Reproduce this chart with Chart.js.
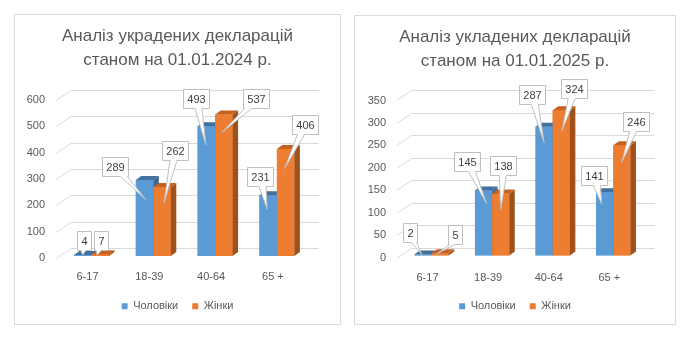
<!DOCTYPE html>
<html>
<head>
<meta charset="utf-8">
<script src="https://cdn.jsdelivr.net/npm/chart.js@4/dist/chart.umd.min.js"></script>
<style>
  body { margin: 0; background: #fff; width: 698px; height: 342px; overflow: hidden; position: relative; }
  .box { position: absolute; border: 1px solid #d9d9d9; box-sizing: border-box; background: #fff; }
  .box canvas { display: block; }
</style>
</head>
<body>
<div class="box" style="left:14px;top:14px;width:327px;height:311px"><canvas id="c2024" width="325" height="309"></canvas></div>
<div class="box" style="left:354px;top:15px;width:322px;height:310px"><canvas id="c2025" width="320" height="308"></canvas></div>
<script>
const ageGroups = ['6-17', '18-39', '40-64', '65 +'];
const seriesNames = ['Чоловіки', 'Жінки'];

const men2024 = [4, 289, 493, 231];
const women2024 = [7, 262, 537, 406];
const ticks2024 = [0, 100, 200, 300, 400, 500, 600];

const men2025 = [2, 145, 287, 141];
const women2025 = [5, 138, 324, 246];
const ticks2025 = [0, 50, 100, 150, 200, 250, 300, 350];

// callout placement per bar: [box dx, box dy, tip dx, tip dy] from the bar's top centre
const callouts2024 = [
  [[0.75, -14, 0, 0], [-30, -13, 1, 19.5], [-10, -28, -0.5, 18.5], [-8, -19, -1, 14]],
  [[1.25, -13.7, -3, 1], [13, -36, 2, 16], [32.5, -16, -2, 18], [19, -24.5, -1, 19.5]]
];
const callouts2025 = [
  [[-12.5, -22, -1, 0], [-17, -29, 3, 13], [-12, -32, 0, 16], [-10.5, -16.4, -3, 12]],
  [[14.6, -19, -3.5, 1], [2.3, -28.4, 0, 16], [13, -21.7, 0.7, 20.5], [14, -23.5, 0, 17]]
];

const colors = ['#5b9bd5', '#ed7d31'];
const faceColors = [
  { top: '#41719c', side: '#3a6690' },
  { top: '#c5621f', side: '#a0501a' }
];
const DX = 5.5, DY = -4;
const FONT = '"Liberation Sans", Arial, sans-serif';

Chart.defaults.font.family = FONT;
Chart.defaults.color = '#595959';

function bars3d(callouts) {
  return {
    id: 'bars3d',
    beforeDatasetsDraw(chart) {
      // receding grid: short diagonal from the axis, then the back wall line
      const { ctx, chartArea: a, scales: { y } } = chart;
      ctx.save();
      ctx.strokeStyle = '#d9d9d9';
      ctx.lineWidth = 1;
      y.ticks.forEach(t => {
        const py = Math.round(y.getPixelForValue(t.value)) + 0.5;
        ctx.beginPath();
        ctx.moveTo(a.left - 4.5, py + 2);
        ctx.lineTo(a.left + 10.5, py - 8);
        ctx.lineTo(a.right + 11, py - 8);
        ctx.stroke();
      });
      ctx.restore();
    },
    afterDatasetsDraw(chart) {
      const ctx = chart.ctx;
      const metas = chart.data.datasets.map((d, i) => chart.getDatasetMeta(i));
      ctx.save();
      for (let j = 0; j < chart.data.labels.length; j++) {
        metas.forEach((meta, i) => {
          const { x, y, base, width } = meta.data[j].getProps(['x', 'y', 'base', 'width'], true);
          const x0 = x - width / 2, x1 = x + width / 2;
          // front face again so the neighbour's side stays behind it
          ctx.fillStyle = colors[i];
          ctx.fillRect(x0, y, width, base - y);
          ctx.fillStyle = faceColors[i].side;
          ctx.beginPath();
          ctx.moveTo(x1, y); ctx.lineTo(x1 + DX, y + DY);
          ctx.lineTo(x1 + DX, base + DY); ctx.lineTo(x1, base);
          ctx.closePath(); ctx.fill();
          ctx.fillStyle = faceColors[i].top;
          ctx.beginPath();
          ctx.moveTo(x0, y); ctx.lineTo(x1, y);
          ctx.lineTo(x1 + DX, y + DY); ctx.lineTo(x0 + DX, y + DY);
          ctx.closePath(); ctx.fill();
        });
      }
      ctx.restore();
    },
    afterDraw(chart) {
      const ctx = chart.ctx;
      ctx.save();
      ctx.font = '11px ' + FONT;
      ctx.lineWidth = 1;
      chart.data.datasets.forEach((ds, i) => {
        chart.getDatasetMeta(i).data.forEach((bar, j) => {
          const { x, y } = bar.getProps(['x', 'y'], true);
          const [bdx, bdy, tdx, tdy] = callouts[i][j];
          const text = String(ds.data[j]);
          const w = Math.round(ctx.measureText(text).width + 8), h = 19;
          const l = Math.round(x + bdx - w / 2) + 0.5, t = Math.round(y + bdy - h / 2) + 0.5;
          const r = l + w, b = t + h, cx = l + w / 2, cy = t + h / 2;
          const tx = x + tdx, ty = y + tdy;
          const half = w > 20 ? 3.5 : 2.5;
          let bx = cx + (tx - cx) * (h / 2) / Math.max(ty - cy, 1);
          bx = Math.min(Math.max(bx, l + half + 1), r - half - 1);
          ctx.beginPath();
          ctx.moveTo(l, t); ctx.lineTo(r, t); ctx.lineTo(r, b);
          ctx.lineTo(bx + half, b); ctx.lineTo(tx, ty); ctx.lineTo(bx - half, b);
          ctx.lineTo(l, b); ctx.closePath();
          ctx.fillStyle = '#fff'; ctx.fill();
          ctx.strokeStyle = '#bfbfbf'; ctx.stroke();
          ctx.fillStyle = '#404040';
          ctx.textAlign = 'center';
          ctx.textBaseline = 'middle';
          ctx.fillText(text, cx, cy + 0.5);
        });
      });
      ctx.restore();
    }
  };
}

function makeChart(id, title, men, women, ticks, callouts, geo) {
  const ctx = document.getElementById(id).getContext('2d');
  return new Chart(ctx, {
    type: 'bar',
    data: {
      labels: ageGroups,
      datasets: [
        { label: seriesNames[0], data: men, backgroundColor: colors[0], borderWidth: 0 },
        { label: seriesNames[1], data: women, backgroundColor: colors[1], borderWidth: 0 }
      ]
    },
    options: {
      responsive: false,
      animation: false,
      events: [],
      layout: { padding: { left: 0, right: 0, top: 0, bottom: geo.padBottom } },
      datasets: { bar: { categoryPercentage: 0.566, barPercentage: 1 } },
      scales: {
        x: {
          grid: { display: false },
          border: { display: false },
          ticks: { padding: geo.xPad, labelOffset: -4, font: { size: 11 }, color: '#595959' },
          afterFit: s => { s.height = geo.xHeight; }
        },
        y: {
          min: ticks[0],
          max: ticks[ticks.length - 1],
          grid: { display: false, drawTicks: false },
          border: { display: false },
          ticks: { stepSize: ticks[1] - ticks[0], padding: geo.yPad, labelOffset: 2, font: { size: 11 }, color: '#595959' },
          afterFit: s => { s.width = geo.left; }
        },
        yRight: {
          position: 'right',
          display: true,
          grid: { display: false, drawTicks: false },
          border: { display: false },
          ticks: { display: false },
          afterFit: s => { s.width = geo.right; }
        }
      },
      plugins: {
        title: {
          display: true,
          text: title,
          color: '#595959',
          font: { size: 17, weight: 'normal', lineHeight: 1.376 },
          padding: { top: geo.titleTop, bottom: geo.titleBottom }
        },
        legend: {
          position: 'bottom',
          labels: { boxWidth: 6, boxHeight: 6, padding: 14, font: { size: 11 }, color: '#595959' }
        },
        tooltip: { enabled: false }
      }
    },
    plugins: [bars3d(callouts)]
  });
}

makeChart('c2024', ['Аналіз украдених декларацій', 'станом на 01.01.2024 р.'],
  men2024, women2024, ticks2024, callouts2024,
  { left: 45.6, right: 32.2, yPad: 15.5, xPad: 6.6, xHeight: 30.8, padBottom: 2.2, titleTop: 10, titleBottom: 26.2 });

makeChart('c2025', ['Аналіз укладених декларацій', 'станом на 01.01.2025 р.'],
  men2025, women2025, ticks2025, callouts2025,
  { left: 46.2, right: 31.4, yPad: 15.2, xPad: 7.4, xHeight: 31.3, padBottom: 2.2, titleTop: 10, titleBottom: 25.7 });
</script>
</body>
</html>
